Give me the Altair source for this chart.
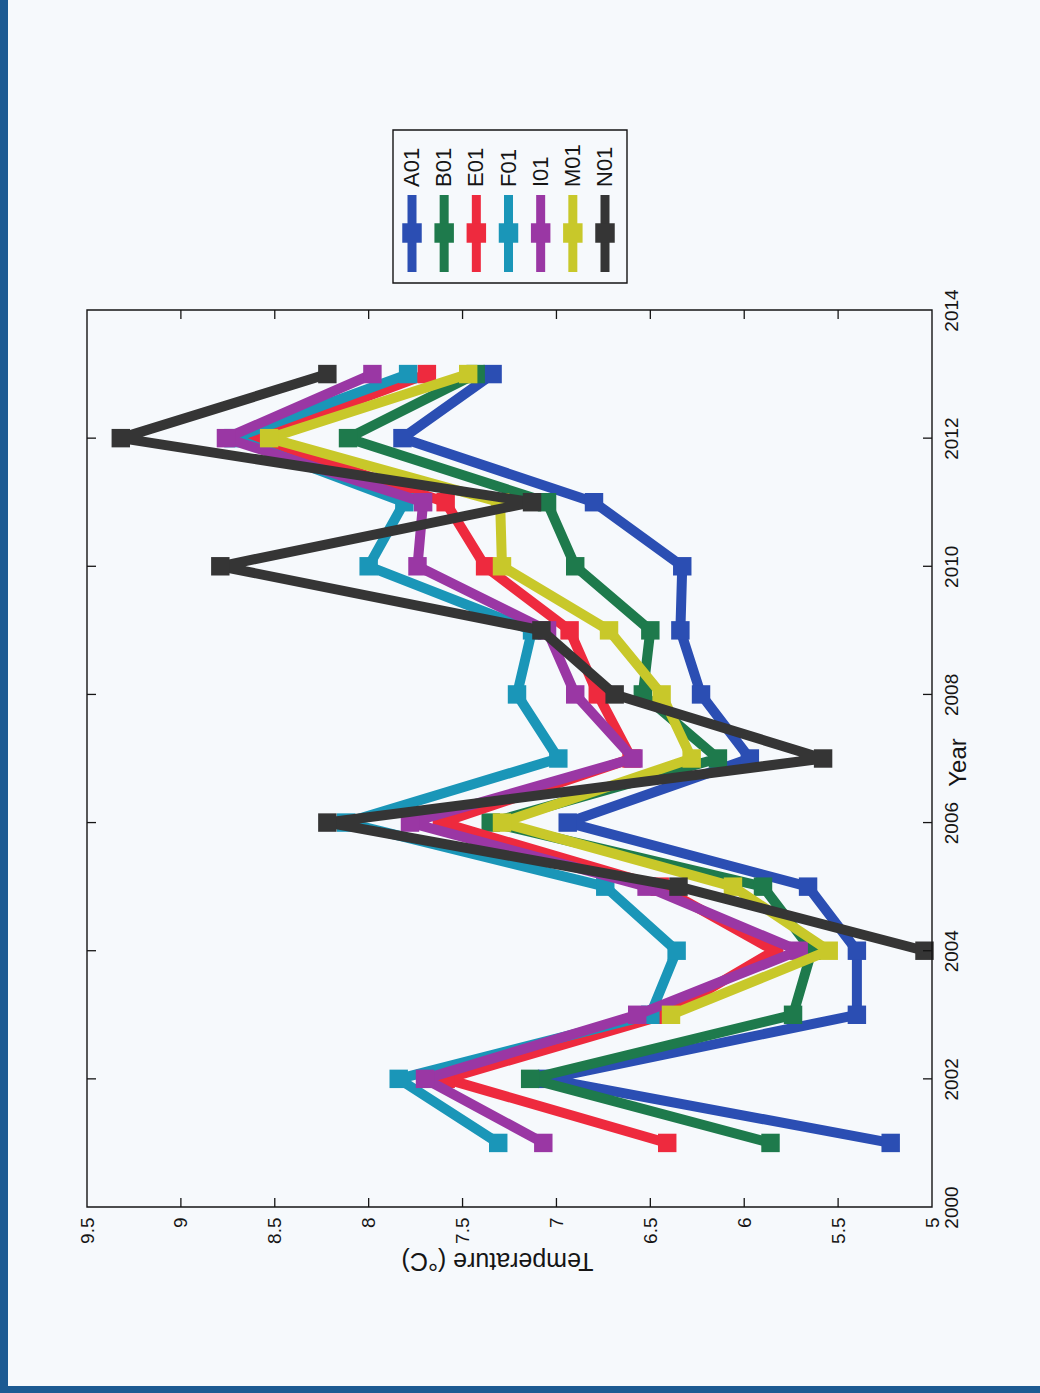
import altair as alt
import pandas as pd

# Annual mean temperature per station
years = list(range(2001, 2014))
stations = ["A01", "B01", "E01", "F01", "I01", "M01", "N01"]
colors = ["#2b4eb3", "#1e7a4c", "#ee2a3e", "#1a96b8", "#9a37a4", "#c8c82a", "#353535"]

A01 = [5.22, 7.05, 5.40, 5.40, 5.66, 6.94, 5.97, 6.23, 6.34, 6.33, 6.80, 7.82, 7.34]
B01 = [5.86, 7.14, 5.74, 5.64, 5.90, 7.35, 6.14, 6.54, 6.50, 6.90, 7.05, 8.11, 7.43]
E01 = [6.41, 7.59, 6.42, 5.84, 6.45, 7.61, 6.60, 6.78, 6.93, 7.38, 7.59, 8.60, 7.69]
F01 = [7.31, 7.84, 6.50, 6.36, 6.74, 8.12, 6.99, 7.21, 7.13, 8.00, 7.81, 8.72, 7.79]
I01 = [7.07, 7.70, 6.57, 5.71, 6.52, 7.78, 6.59, 6.90, 7.05, 7.74, 7.71, 8.76, 7.98]
M01 = [None, None, 6.39, 5.55, 6.06, 7.29, 6.28, 6.44, 6.72, 7.29, 7.30, 8.53, 7.47]
N01 = [None, None, None, 5.04, 6.35, 8.22, 5.58, 6.69, 7.08, 8.79, 7.13, 9.32, 8.22]

temp_labels = [5, 5.5, 6, 6.5, 7, 7.5, 8, 8.5, 9, 9.5]
temp_inner = [5.5, 6, 6.5, 7, 7.5, 8, 8.5, 9]
year_labels = [2000, 2002, 2004, 2006, 2008, 2010, 2012, 2014]
year_inner = [2002, 2004, 2006, 2008, 2010, 2012]

series = dict(zip(stations, [A01, B01, E01, F01, I01, M01, N01]))
rows = [
    {"Station": s, "Year": y, "Temp": v}
    for s, vals in series.items()
    for y, v in zip(years, vals)
    if v is not None
]
df = pd.DataFrame(rows)

W, H = 845, 897
BG = "#f6f9fc"
FONT = "Liberation Sans"
INK = "#151515"

x_axis = alt.Axis(
    orient="bottom", values=temp_labels, format="~g",
    labelAngle=270, labelAlign="right", labelBaseline="middle", labelPadding=10,
    labelFont=FONT, labelFontSize=19, labelColor=INK,
    labelFlush=False, labelOverlap=False,
    ticks=False, domain=False, grid=False,
    title="Temperature (°C)", titleAngle=180, titleFont=FONT, titleFontSize=25,
    titleFontWeight="normal", titleColor=INK, titleAlign="center",
    titleBaseline="alphabetic", titleX=410, titleY=45, zindex=1,
)
y_axis = alt.Axis(
    orient="right", values=year_labels, format="d",
    labelAngle=270, labelAlign="center", labelBaseline="top", labelPadding=10,
    labelFont=FONT, labelFontSize=19, labelColor=INK,
    labelFlush=False, labelOverlap=False,
    ticks=False, domain=False, grid=False,
    title="Year", titleAngle=270, titleFont=FONT, titleFontSize=24,
    titleFontWeight="normal", titleColor=INK, titleAlign="center",
    titleBaseline="alphabetic", titleX=33, titleY=452, zindex=1,
)

x_scale = alt.Scale(domain=[5, 9.5], reverse=True, nice=False, zero=False)
y_scale = alt.Scale(domain=[2000, 2014], nice=False, zero=False)
color_enc = alt.Color("Station:N", scale=alt.Scale(domain=stations, range=colors), legend=None)
x_enc = alt.X("Temp:Q", scale=x_scale, axis=x_axis)
y_enc = alt.Y("Year:Q", scale=y_scale, axis=y_axis)

one = pd.DataFrame({"k": [0]})

# page background and the blue frame strips on the left and bottom
background = alt.Chart(one).mark_rect(color=BG).encode(
    x=alt.value(-87), x2=alt.value(W + 108), y=alt.value(-310), y2=alt.value(H + 186)
)
frame_left = alt.Chart(one).mark_rect(color="#1c5a92").encode(
    x=alt.value(-87), x2=alt.value(-79), y=alt.value(-310), y2=alt.value(H + 186)
)
frame_bottom = alt.Chart(one).mark_rect(color="#1c5a92").encode(
    x=alt.value(-87), x2=alt.value(W + 108), y=alt.value(H + 179), y2=alt.value(H + 186)
)

layers = [background, frame_left, frame_bottom]

# one line + marker layer per station, drawn in legend order
base = alt.Chart(df)
for s in stations:
    sub = base.transform_filter(alt.datum.Station == s)
    layers.append(
        sub.mark_line(strokeWidth=10, strokeJoin="round").encode(
            x=x_enc, y=y_enc, color=color_enc, order="Year:Q"
        )
    )
    layers.append(
        sub.mark_point(shape="square", filled=True, size=340, opacity=1).encode(
            x=x_enc, y=y_enc, color=color_enc
        )
    )

# axes box
layers.append(
    alt.Chart(one).mark_rect(fillOpacity=0, stroke=INK, strokeWidth=1.4).encode(
        x=alt.value(0), x2=alt.value(W), y=alt.value(0), y2=alt.value(H)
    )
)

# inward tick marks on all four sides of the box
temp_df = pd.DataFrame({"Temp": temp_inner})
year_df = pd.DataFrame({"Year": year_inner})
tick_style = dict(color=INK, strokeWidth=1.3)
layers += [
    alt.Chart(temp_df).mark_rule(**tick_style).encode(x=x_enc, y=alt.value(H), y2=alt.value(H - 9)),
    alt.Chart(temp_df).mark_rule(**tick_style).encode(x=x_enc, y=alt.value(0), y2=alt.value(9)),
    alt.Chart(year_df).mark_rule(**tick_style).encode(y=y_enc, x=alt.value(W), x2=alt.value(W - 9)),
    alt.Chart(year_df).mark_rule(**tick_style).encode(y=y_enc, x=alt.value(0), x2=alt.value(9)),
]

# legend box
layers.append(
    alt.Chart(one).mark_rect(fillOpacity=0, stroke=INK, strokeWidth=1.4).encode(
        x=alt.value(306), x2=alt.value(540), y=alt.value(-180), y2=alt.value(-27)
    )
)

main = alt.layer(*layers)

# legend entries: vertical line sample, marker and rotated label
leg_df = pd.DataFrame({"Station": stations})
lx = alt.X(
    "Station:N",
    scale=alt.Scale(type="point", domain=stations, range=[325, 518], padding=0),
    axis=None,
)
leg_base = alt.Chart(leg_df)
legend = alt.layer(
    leg_base.mark_rule(strokeWidth=9).encode(
        x=lx, y=alt.value(-115), y2=alt.value(-38), color=color_enc
    ),
    leg_base.mark_point(shape="square", filled=True, size=380, opacity=1).encode(
        x=lx, y=alt.value(-77), color=color_enc
    ),
    leg_base.mark_text(
        angle=270, align="left", baseline="middle", font=FONT, fontSize=22, color=INK
    ).encode(x=lx, y=alt.value(-123), text="Station:N"),
)

chart = (
    alt.layer(main, legend)
    .resolve_scale(x="independent")
    .properties(width=W, height=H, padding=0, background=BG)
    .configure_view(stroke=None)
)

chart.save("out.html", embed_options={"renderer": "svg", "actions": False})
